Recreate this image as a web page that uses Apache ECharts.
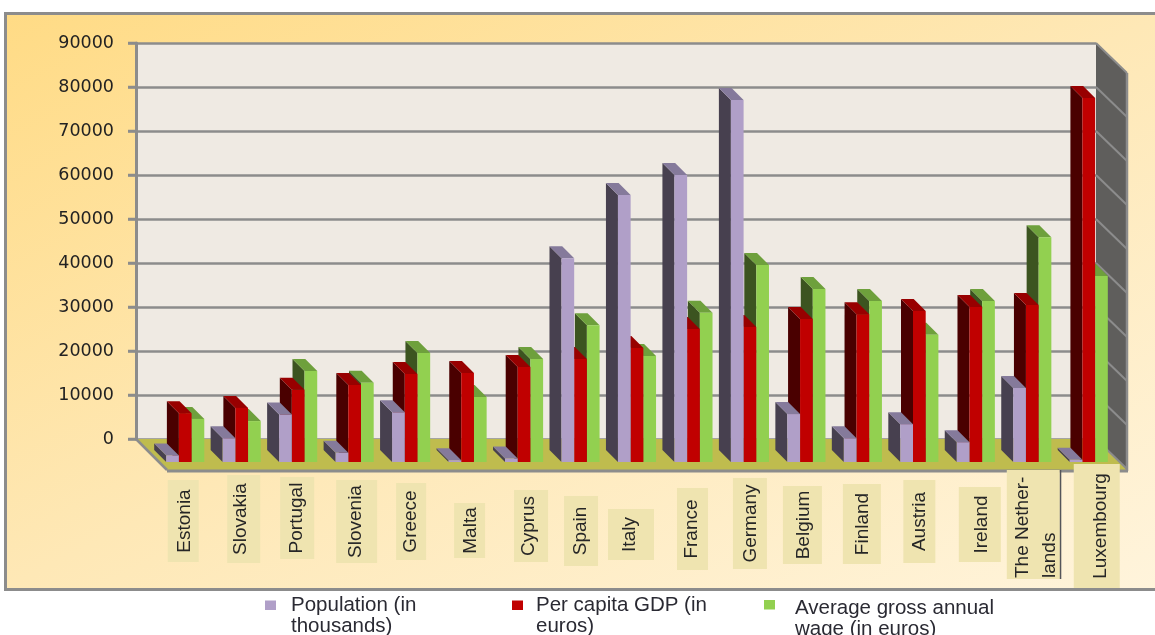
<!DOCTYPE html>
<html>
<head>
<meta charset="utf-8">
<style>html,body{margin:0;padding:0;background:#fff;overflow:hidden}#c{width:1155px;height:635px}</style>
<script src="https://cdn.jsdelivr.net/npm/echarts@6/dist/echarts.min.js"></script>
</head>
<body>
<div id="c"></div>
<script>
const categories = ['Estonia','Slovakia','Portugal','Slovenia','Greece','Malta','Cyprus','Spain','Italy','France','Germany','Belgium','Finland','Austria','Ireland','The Nether-\nlands','Luxembourg'];
const population = [1500,5400,10800,2100,11300,400,800,46300,60700,65200,82300,10900,5400,8600,4500,16800,500];
const perCapitaGDP = [11100,12300,16400,17500,20000,20200,21600,23400,25900,30200,30700,32500,33600,34300,35200,35700,82700];
const averageWage = [9800,9300,20700,18000,24800,14800,23400,31100,24100,33900,44800,39300,36600,28900,36600,51100,42300];
const yTicks = [0,10000,20000,30000,40000,50000,60000,70000,80000,90000];

// Annotation layout (label plates under the floor), separate from the data
const plateDx   = [19,23,20,23,21,23,28,21.5,15,20,21,17,20,21,25,22,29];
const plateDrop = [41,36,38,41,44,64,51,57,70,49,39,47,45,41,48,31,25];
const plateW    = [31,33,34,41,30,31,34,34,46,31,34,39,38,32,42,53,46];
const plateH    = [82,88,82,83,77,55,72,70,51,82,91,78,80,83,75,109,124];
const textDx    = [2,-3,0,-1,0,1,-2,0,-1,-1,1,1,1,0,2,3,4];

const FLOOR_DX = 31, FLOOR_DY = 31;     // wall depth
const PLANE_DX = 21, PLANE_DY = 23;     // front plane of bars vs. back wall
const BAR_W = 12.7, BAR_D = 12;
const GREY = '#8c8c8c';

function poly(points, fill) {
  return {type:'polygon', shape:{points}, style:{fill}};
}
function barRenderer(slot, front, side, top) {
  return function (params, api) {
    const i = api.value(0), v = api.value(1);
    const p = api.coord([i, v]), z = api.coord([i, 0]);
    const x0 = p[0] + PLANE_DX - 1.5 * BAR_W + slot * BAR_W, x1 = x0 + BAR_W;
    const yT = p[1] + PLANE_DY, yB = z[1] + PLANE_DY;
    return {type:'group', children:[
      poly([[x0,yB],[x0,yT],[x0-BAR_D,yT-BAR_D],[x0-BAR_D,yB-BAR_D]], side),
      poly([[x0,yT],[x1,yT],[x1-BAR_D,yT-BAR_D],[x0-BAR_D,yT-BAR_D]], top),
      {type:'rect', shape:{x:x0,y:yT,width:BAR_W,height:yB-yT}, style:{fill:front}}
    ]};
  };
}
function rows(values){ return values.map((v,i)=>[i,v]); }

function renderScene(params, api) {
  const g = params.coordSys, L = g.x, R = g.x + g.width, T = g.y, B = g.y + g.height;
  const kids = [
    poly([[L,B],[R,B],[R+FLOOR_DX,B+FLOOR_DY],[L+FLOOR_DX,B+FLOOR_DY]], '#bfbc4e'),
    poly([[R,T],[R+FLOOR_DX,T+FLOOR_DY-1],[R+FLOOR_DX,B+FLOOR_DY],[R,B]], '#5f5e5c')
  ];
  const line = (a,b,w)=>({type:'line', shape:{x1:a[0],y1:a[1],x2:b[0],y2:b[1]}, style:{stroke:GREY,lineWidth:w}});
  yTicks.forEach(t => {
    const y = api.coord([0,t])[1];
    kids.push(line([R,y],[R+FLOOR_DX,y+FLOOR_DY-1],2));
    kids.push(line([L-8,y],[L,y],2.5));
  });
  kids.push(line([R+FLOOR_DX,T+FLOOR_DY-1],[R+FLOOR_DX,B+FLOOR_DY+1],2.5));
  kids.push(line([L,B],[L+FLOOR_DX,B+FLOOR_DY],2.5));
  kids.push(line([L+FLOOR_DX,B+FLOOR_DY+1],[R+FLOOR_DX+1,B+FLOOR_DY+1],3));
  return {type:'group', children:kids};
}
function renderPlate(params, api) {
  const i = api.value(0), c = api.coord([i,0]);
  const cx = c[0] + plateDx[i], top = c[1] + plateDrop[i], w = plateW[i], h = plateH[i];
  const two = categories[i].indexOf('\n') >= 0;
  const kids = [
    {type:'rect', shape:{x:cx-w/2,y:top,width:w,height:h}, style:{fill:'#efe4b0'}},
    {type:'text', x:cx+textDx[i], y: two ? top+h-1 : top+h/2, rotation:Math.PI/2,
     style:{text:categories[i], align: two?'left':'center', verticalAlign:'middle',
            font:'19px "Liberation Sans"', fill:'#262626', lineHeight: two?27:22}}
  ];
  if (two) kids.push({type:'rect', shape:{x:cx+w/2,y:top,width:1.5,height:h}, style:{fill:'#55555a'}});
  return {type:'group', children:kids};
}
function legendIcon(w,h){
  return 'path://M0 0H11V9.5H0Z M'+(w-0.1)+' '+(h-0.1)+'h.1v.1h-.1z';
}
function legendBlock(name, left, top, w, h){
  return {show:true, data:[name], left, top, padding:0, selectedMode:false, orient:'horizontal',
    icon:legendIcon(w,h), itemWidth:w, itemHeight:h,
    textStyle:{fontFamily:'Liberation Sans', fontSize:20.5, lineHeight:21, color:'#2a2a33'},
    formatter:n=>legendText[n]};
}
const legendText = {
  'Population':'Population (in\nthousands)',
  'Per capita GDP':'Per capita GDP (in\neuros)',
  'Average gross annual wage':'Average gross annual\nwage (in euros)'
};

const chart = echarts.init(document.getElementById('c'), null, {renderer:'canvas', width:1155, height:635});
chart.setOption({
  animation:false,
  backgroundColor:'#ffffff',
  graphic:[
    {type:'rect', z:-10, shape:{x:5.5,y:13.5,width:1170,height:576},
     style:{fill:new echarts.graphic.LinearGradient(0,0,0.39,1.6,[
       {offset:0,color:'#ffdb85'},{offset:0.5,color:'#fee8b6'},{offset:1,color:'#fff4dc'}]),
       stroke:GREY,lineWidth:3}},
    {type:'rect', z:-9, shape:{x:263,y:591,width:768,height:44}, style:{fill:'#ffffff'}}
  ],
  grid:{left:136,top:43,width:960,height:396,show:true,backgroundColor:'#efeae3',borderWidth:0},
  legend:[
    legendBlock('Population',265,595,21,31),
    legendBlock('Per capita GDP',512,595,19,31),
    legendBlock('Average gross annual wage',764,598,26,38)
  ],
  xAxis:{type:'category',data:categories,axisLabel:{show:false},axisTick:{show:false},axisLine:{show:false},splitLine:{show:false}},
  yAxis:{type:'value',min:0,max:90000,interval:10000,
    axisLine:{show:true,lineStyle:{color:GREY,width:3}},
    axisTick:{show:true,length:8,lineStyle:{color:GREY,width:2.5}},
    splitLine:{show:true,lineStyle:{color:GREY,width:2.5}},
    axisLabel:{margin:22,fontFamily:'DejaVu Sans',fontSize:17.5,color:'#222',padding:[5,0,0,0],formatter:v=>String(v)}},
  series:[
    {type:'custom',name:'scene',silent:true,z:1,data:[[0,0]],encode:{x:0,y:1},renderItem:renderScene,clip:false},
    {type:'custom',name:'Average gross annual wage',silent:true,z:3,itemStyle:{color:'#92d050'},data:rows(averageWage),encode:{x:0,y:1},renderItem:barRenderer(2,'#92d050','#3c5420','#6ea03c')},
    {type:'custom',name:'Per capita GDP',silent:true,z:4,itemStyle:{color:'#c00000'},data:rows(perCapitaGDP),encode:{x:0,y:1},renderItem:barRenderer(1,'#c00000','#4a0000','#980000')},
    {type:'custom',name:'Population',silent:true,z:5,itemStyle:{color:'#b09fc8'},data:rows(population),encode:{x:0,y:1},renderItem:barRenderer(0,'#b09fc8','#47404f','#857a9b')},
    {type:'custom',name:'labels',silent:true,z:6,data:categories.map((c,i)=>[i,0]),encode:{x:0,y:1},renderItem:renderPlate}
  ]
});
</script>
</body>
</html>
